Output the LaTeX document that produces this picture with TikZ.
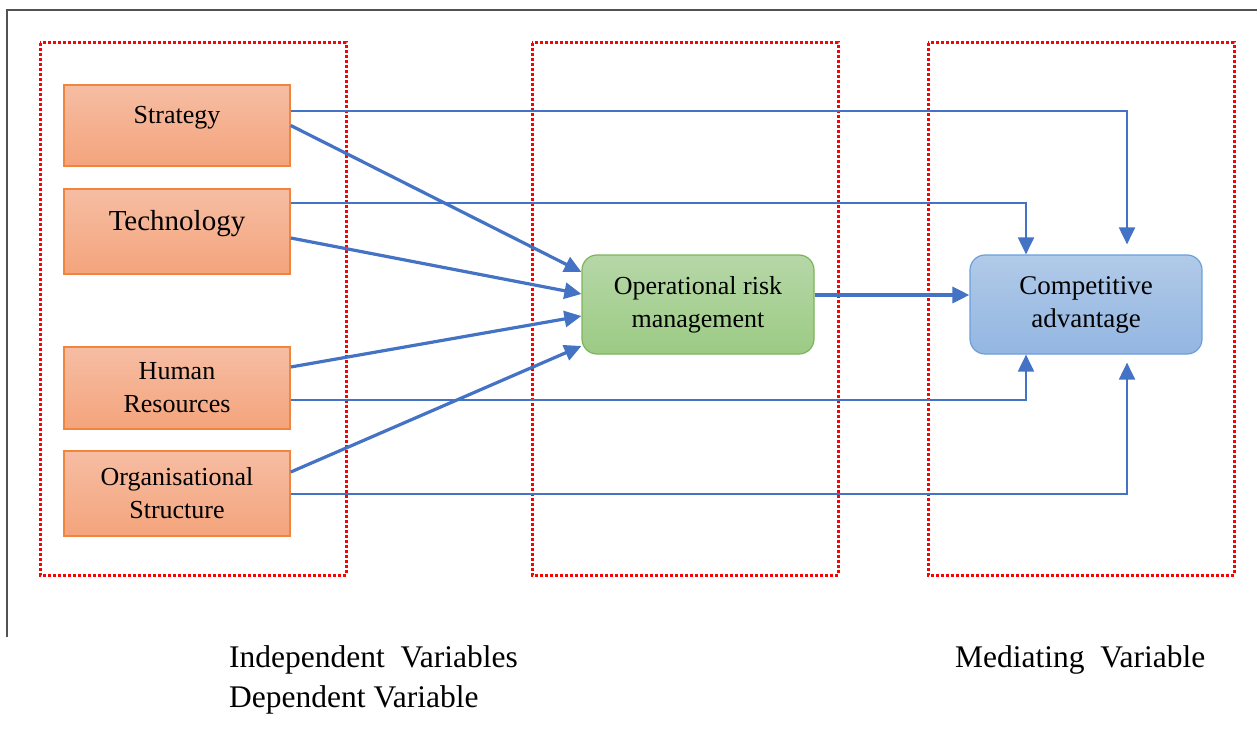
\documentclass[tikz,border=0pt]{standalone}
\usepackage{fontspec}
\setmainfont{Liberation Serif}
\usetikzlibrary{arrows.meta,calc}

\definecolor{linkblue}{HTML}{4472C4}
\definecolor{orangeline}{HTML}{F0853F}
\definecolor{orangetop}{HTML}{F6BDA3}
\definecolor{orangebot}{HTML}{F4A47C}
\definecolor{greenline}{HTML}{7DB45A}
\definecolor{greentop}{HTML}{B6D7A8}
\definecolor{greenbot}{HTML}{9CCB84}
\definecolor{blueline}{HTML}{6A9FDB}
\definecolor{bluetop}{HTML}{B1CAE8}
\definecolor{bluebot}{HTML}{93B6E2}

\tikzset{
  factor/.style={draw=orangeline, line width=1.5pt, top color=orangetop, bottom color=orangebot,
    minimum width=226pt, inner sep=0pt, align=center, font=\fontsize{26}{33}\selectfont},
  oneline/.style={text height=18pt, text depth=21pt},
  mediator/.style={draw=greenline, line width=1.2pt, top color=greentop, bottom color=greenbot,
    rounded corners=15pt, minimum width=232pt, minimum height=99pt, inner sep=0pt, align=center,
    font=\fontsize{26}{33}\selectfont},
  outcome/.style={draw=blueline, line width=1.2pt, top color=bluetop, bottom color=bluebot,
    rounded corners=15pt, minimum width=232pt, minimum height=99pt, inner sep=0pt, align=center,
    font=\fontsize{27}{33}\selectfont},
  group/.style={draw=red, line width=3pt, dash pattern=on 3pt off 2pt},
  link/.style={draw=linkblue, line width=3.2pt, -{Triangle[length=17pt,width=16pt]}},
  route/.style={draw=linkblue, line width=2pt, -{Triangle[length=17pt,width=16pt]}},
  caption/.style={inner sep=0pt, anchor=base west, font=\fontsize{31.5}{40}\selectfont}
}

\begin{document}
\begin{tikzpicture}[x=1pt,y=-1pt]
\useasboundingbox (0,0) rectangle (1257,730);

% outer frame
\draw[line width=2.5pt, color=black!68] (7,637) -- (7,10) -- (1257,10);

% variable groups
\foreach \gx in {40,532,928}
  \draw[group] (\gx,43) rectangle ++(306,532);

% factors
\node[factor, oneline, minimum height=81pt] (strat) at (177,125.5) {Strategy};
\node[factor, minimum height=85pt, font=\fontsize{29}{33}\selectfont, text height=20pt, text depth=23pt] (tech) at (177,231.5) {Technology};
\node[factor, minimum height=82pt] (human) at (177,388) {Human\\Resources};
\node[factor, minimum height=85pt] (org) at (177,493.5) {Organisational\\Structure};

\node[mediator] (orm) at (698,304.5) {Operational risk\\management};
\node[outcome] (ca) at (1086,304.5) {Competitive\\advantage};

% links to the mediator
\draw[link] (strat.east) -- ($(orm.west)+(0,-32.5)$);
\draw[link] ($(tech.east)+(0,6.5)$) -- ($(orm.west)+(0,-10.5)$);
\draw[link] ($(human.east)+(0,-21)$) -- ($(orm.west)+(0,11.5)$);
\draw[link] ($(org.east)+(0,-21.5)$) -- ($(orm.west)+(0,41.5)$);
\draw[link] ($(orm.east)+(0,-9.5)$) -- ($(ca.west)+(0,-9.5)$);

% direct routes
\draw[route] ($(strat.east)+(0,-14.5)$) -| ($(ca.north)+(41,-10)$);
\draw[route] ($(tech.east)+(0,-28.5)$) -| ($(ca.north)+(-60,0)$);
\draw[route] ($(human.east)+(0,12)$) -| ($(ca.south)+(-60,0)$);
\draw[route] (org.east) -| ($(ca.south)+(41,8)$);

% captions
\node[caption] (indeplab) at (229,667) {Independent\ \ Variables};
\node[caption] (deplab) at (229,707) {Dependent Variable};
\node[caption] (medlab) at (955,667) {Mediating\ \ Variable};
\end{tikzpicture}
\end{document}
